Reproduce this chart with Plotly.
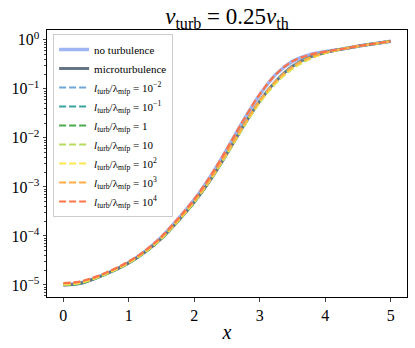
"""
Line profile vs x for several turbulence scales (v_turb = 0.25 v_th).
"""

import plotly.graph_objects as go

# x grid the curves were read on
x_vals = [0.0, 0.25, 0.5, 0.75, 1.0, 1.25, 1.5, 1.75, 2.0, 2.25, 2.5,
          2.75, 3.0, 3.25, 3.5, 3.75, 4.0, 4.25, 4.5, 4.75, 5.0]

# log10 of the plotted quantity
log_no_turb = [-5.0, -4.96, -4.85, -4.71, -4.54, -4.31, -4.02, -3.66, -3.26, -2.78, -2.23,
               -1.65, -1.12, -0.70, -0.44, -0.31, -0.24, -0.19, -0.13, -0.08, -0.03]
log_micro = [-5.0, -4.97, -4.86, -4.72, -4.55, -4.33, -4.05, -3.70, -3.31, -2.85, -2.32,
             -1.76, -1.25, -0.84, -0.54, -0.36, -0.26, -0.19, -0.13, -0.08, -0.03]
log_lt_m2 = [-5.0, -4.97, -4.86, -4.72, -4.55, -4.33, -4.05, -3.70, -3.31, -2.85, -2.32,
             -1.76, -1.25, -0.84, -0.54, -0.36, -0.26, -0.19, -0.13, -0.08, -0.03]
log_lt_m1 = [-5.0, -4.97, -4.86, -4.72, -4.55, -4.33, -4.05, -3.70, -3.31, -2.85, -2.32,
             -1.77, -1.26, -0.85, -0.55, -0.37, -0.26, -0.19, -0.13, -0.08, -0.03]
log_lt_0 = [-5.0, -4.97, -4.86, -4.72, -4.55, -4.33, -4.05, -3.70, -3.31, -2.85, -2.33,
            -1.78, -1.27, -0.87, -0.57, -0.38, -0.27, -0.19, -0.13, -0.08, -0.03]
log_lt_1 = [-4.99, -4.96, -4.86, -4.72, -4.55, -4.33, -4.05, -3.70, -3.31, -2.85, -2.33,
            -1.78, -1.28, -0.88, -0.59, -0.40, -0.27, -0.19, -0.13, -0.08, -0.03]
log_lt_2 = [-4.99, -4.96, -4.85, -4.71, -4.54, -4.32, -4.04, -3.69, -3.30, -2.84, -2.32,
            -1.77, -1.27, -0.87, -0.58, -0.39, -0.27, -0.19, -0.13, -0.08, -0.03]
log_lt_3 = [-4.97, -4.94, -4.84, -4.70, -4.53, -4.31, -4.03, -3.68, -3.29, -2.83, -2.30,
            -1.75, -1.24, -0.84, -0.55, -0.37, -0.26, -0.19, -0.13, -0.08, -0.03]
log_lt_4 = [-4.96, -4.93, -4.83, -4.69, -4.52, -4.30, -4.01, -3.65, -3.25, -2.77, -2.22,
            -1.64, -1.11, -0.70, -0.44, -0.31, -0.24, -0.19, -0.13, -0.08, -0.03]

lt_labels = ['10<sup>−2</sup>', '10<sup>−1</sup>', '1', '10',
             '10<sup>2</sup>', '10<sup>3</sup>', '10<sup>4</sup>']
lt_colors = ['#72a6d9', '#3aa39e', '#4ea84e', '#b6dc5e', '#fde64e', '#ffab45', '#ff744a']
lt_series = [log_lt_m2, log_lt_m1, log_lt_0, log_lt_1, log_lt_2, log_lt_3, log_lt_4]

y_tick_exp = [0, -1, -2, -3, -4, -5]
x_ticks = [0, 1, 2, 3, 4, 5]

FONT = "Liberation Serif, DejaVu Serif, serif"


def to_lin(logs):
    return [10 ** v for v in logs]


fig = go.Figure()

fig.add_trace(go.Scatter(
    x=x_vals, y=to_lin(log_no_turb), mode='lines', line_shape='spline',
    line=dict(color='#9fb4f2', width=3.5), name='no turbulence'))
fig.add_trace(go.Scatter(
    x=x_vals, y=to_lin(log_micro), mode='lines', line_shape='spline',
    line=dict(color='#667585', width=3), name='microturbulence'))

for lab, col, ser in zip(lt_labels, lt_colors, lt_series):
    fig.add_trace(go.Scatter(
        x=x_vals, y=to_lin(ser), mode='lines', line_shape='spline',
        line=dict(color=col, width=2.2, dash='7px,3px'),
        name=f'<i>l</i><sub>turb</sub>/λ<sub>mfp</sub> = {lab}'))

fig.update_layout(
    width=415, height=348,
    margin=dict(l=47, r=8, t=30, b=51),
    paper_bgcolor='white', plot_bgcolor='white',
    font=dict(family=FONT, color='black'),
    title=dict(text='<i>v</i><sub>turb</sub> = 0.25<i>v</i><sub>th</sub>',
               x=0.547, xanchor='center', y=0.955, yanchor='middle',
               font=dict(size=23, family=FONT)),
    legend=dict(x=0.017, y=0.985, xanchor='left', yanchor='top',
                bgcolor='rgba(255,255,255,0.8)', bordercolor='#cccccc', borderwidth=1,
                font=dict(size=11, family=FONT), tracegroupgap=0, itemwidth=30),
    showlegend=True,
)

fig.update_xaxes(
    range=[-0.25, 5.25], tickvals=x_ticks, ticks='outside', ticklen=3.5,
    showline=True, mirror=True, linecolor='black', linewidth=1, automargin=False,
    showgrid=False, zeroline=False, tickfont=dict(size=16, family=FONT),
    title=dict(text='<i>x</i>', font=dict(size=20, family=FONT), standoff=2))

fig.update_yaxes(
    type='log', range=[-5.245, 0.2], automargin=False,
    tickvals=[10 ** e for e in y_tick_exp],
    ticktext=[f'10<sup>{"−" + str(-e) if e < 0 else e}</sup>' for e in y_tick_exp],
    ticks='outside', ticklen=3.5,
    minor=dict(ticks='outside', ticklen=2, dtick='D1', showgrid=False),
    showline=True, mirror=True, linecolor='black', linewidth=1,
    showgrid=False, zeroline=False, tickfont=dict(size=16, family=FONT))

fig.write_html("out.html", config={'displayModeBar': False},
               post_script="document.body.style.margin='0';")
